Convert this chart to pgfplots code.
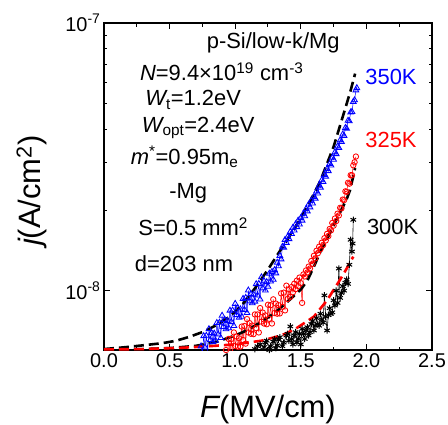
\documentclass[border=0pt]{standalone}
\usepackage{fontspec}
\setmainfont{Liberation Sans}
\usepackage{pgfplots}
\pgfplotsset{compat=1.18}
\begin{document}
\begin{tikzpicture}
\begin{axis}[
  scale only axis, width=328bp, height=327bp,
  xmin=0, xmax=2.5, ymode=log, ymin=6e-9, ymax=1e-7,
  xtick={0,0.5,1,1.5,2,2.5}, xticklabels={0.0,0.5,1.0,1.5,2.0,2.5},
  minor x tick num=1,
  ytick={1e-8,1e-7}, yticklabels={10\textsuperscript{-8},10\textsuperscript{-7}},
  tick align=inside, tick pos=both,
  major tick length=6bp, minor tick length=3.5bp,
  axis line style={line width=1.2bp},
  every tick/.style={line width=1bp, black},
  ticklabel style={font=\fontsize{20}{24}\selectfont},
  xlabel={{\itshape F}(MV/cm)},
  ylabel={{\itshape j}(A/cm\textsuperscript{2})},
  xlabel style={font=\fontsize{31}{36}\selectfont, at={(axis description cs:0.5,-0.183)}, anchor=center},
  ylabel style={font=\fontsize{31}{36}\selectfont, at={(axis description cs:-0.22,0.487)}, anchor=center},
]
% 350K data
\addplot[blue, line width=0.5bp, mark=triangle, mark size=3.3bp, mark options={solid, line width=0.85bp}] coordinates {
(0.74,6.20e-9)(0.75,5.83e-9)(0.76,6.77e-9)(0.77,6.14e-9)(0.78,6.79e-9)(0.79,5.94e-9)(0.80,7.19e-9)
(0.81,6.55e-9)(0.82,6.96e-9)(0.83,6.43e-9)(0.84,6.92e-9)(0.85,6.51e-9)(0.86,7.58e-9)(0.87,6.87e-9)
(0.88,7.60e-9)(0.89,6.66e-9)(0.90,8.07e-9)(0.91,7.33e-9)(0.92,7.79e-9)(0.93,7.18e-9)(0.94,7.72e-9)
(0.95,7.25e-9)(0.96,8.43e-9)(0.97,7.64e-9)(0.98,8.44e-9)(0.99,7.39e-9)(1.00,8.94e-9)(1.01,8.11e-9)
(1.02,8.61e-9)(1.03,7.93e-9)(1.04,8.52e-9)(1.05,8.00e-9)(1.06,9.33e-9)(1.07,8.49e-9)(1.08,9.41e-9)
(1.09,8.26e-9)(1.10,10.03e-9)(1.11,9.13e-9)(1.12,9.72e-9)(1.13,8.99e-9)(1.14,9.68e-9)(1.15,9.11e-9)
(1.16,10.59e-9)(1.17,9.60e-9)(1.18,10.61e-9)(1.19,9.28e-9)(1.20,11.23e-9)(1.21,10.21e-9)(1.22,10.86e-9)
(1.23,10.02e-9)(1.24,10.78e-9)(1.25,10.36e-9)(1.26,11.59e-9)(1.27,10.84e-9)(1.28,11.77e-9)(1.29,11.00e-9)
(1.30,11.95e-9)(1.31,11.62e-9)(1.32,12.73e-9)(1.33,12.36e-9)(1.34,13.51e-9)(1.35,13.1e-9)(1.36,14.6e-9)
(1.37,14.5e-9)(1.38,15.5e-9)(1.39,15.1e-9)(1.40,15.9e-9)(1.41,15.6e-9)(1.42,16.6e-9)(1.43,16.3e-9)
(1.44,17.2e-9)(1.45,16.8e-9)(1.46,17.7e-9)(1.47,17.3e-9)(1.48,18.3e-9)(1.49,17.7e-9)(1.50,18.7e-9)
(1.51,18.3e-9)(1.52,19.4e-9)(1.53,19.0e-9)(1.54,20.2e-9)(1.55,19.8e-9)(1.56,21.0e-9)(1.57,20.5e-9)
(1.58,21.7e-9)(1.59,21.2e-9)(1.60,22.4e-9)(1.61,22.1e-9)(1.62,23.5e-9)(1.63,23.1e-9)(1.64,24.7e-9)
(1.65,24.3e-9)(1.66,25.9e-9)(1.67,25.5e-9)(1.68,27.1e-9)(1.69,26.7e-9)(1.70,28.5e-9)(1.71,28.0e-9)
(1.72,29.8e-9)(1.73,29.4e-9)(1.74,31.4e-9)(1.75,30.9e-9)(1.76,32.9e-9)(1.77,32.4e-9)(1.78,34.6e-9)
(1.79,34.2e-9)(1.80,36.5e-9)(1.81,36.0e-9)(1.82,38.4e-9)(1.83,37.9e-9)(1.84,40.6e-9)(1.85,40.3e-9)
(1.86,43.2e-9)(1.87,43.0e-9)(1.88,46.4e-9)(1.89,46.6e-9)(1.90,50.8e-9)(1.91,51.5e-9)(1.92,56.1e-9)
(1.927,57.2e-9)
};
% 325K data
\addplot[red, line width=0.5bp, mark=o, mark size=2.7bp, mark options={solid, line width=0.85bp}] coordinates {
(0.93,6.00e-9)(0.94,5.57e-9)(0.95,6.60e-9)(0.96,5.86e-9)(0.97,6.60e-9)(0.98,5.66e-9)(0.99,6.98e-9)
(1.00,6.21e-9)(1.01,6.74e-9)(1.02,6.17e-9)(1.03,6.64e-9)(1.04,6.18e-9)(1.05,7.34e-9)(1.06,6.54e-9)
(1.07,7.38e-9)(1.08,6.34e-9)(1.09,7.83e-9)(1.10,6.98e-9)(1.11,7.56e-9)(1.12,6.90e-9)(1.13,7.41e-9)
(1.14,6.88e-9)(1.15,8.15e-9)(1.16,7.24e-9)(1.17,8.15e-9)(1.18,6.98e-9)(1.19,8.61e-9)(1.20,7.66e-9)
(1.21,8.28e-9)(1.22,7.54e-9)(1.23,8.08e-9)(1.24,7.49e-9)(1.25,8.86e-9)(1.26,7.85e-9)(1.27,8.82e-9)
(1.28,7.54e-9)(1.29,9.28e-9)(1.30,8.25e-9)(1.31,8.95e-9)(1.32,8.20e-9)(1.33,8.83e-9)(1.34,8.22e-9)
(1.35,9.77e-9)(1.36,8.70e-9)(1.37,9.83e-9)(1.38,8.44e-9)(1.39,10.44e-9)(1.40,9.31e-9)(1.41,10.13e-9)
(1.42,9.48e-9)(1.43,10.32e-9)(1.44,9.86e-9)(1.45,10.61e-9)(1.46,10.13e-9)(1.47,10.90e-9)(1.48,10.40e-9)
(1.49,11.19e-9)(1.50,10.67e-9)(1.51,9.0e-9)(1.52,11.5e-9)(1.53,11.3e-9)(1.54,11.9e-9)(1.55,11.7e-9)
(1.56,12.3e-9)(1.57,12.1e-9)(1.58,12.9e-9)(1.59,12.6e-9)(1.60,13.5e-9)(1.61,13.2e-9)(1.62,14.1e-9)
(1.63,13.8e-9)(1.64,14.6e-9)(1.65,14.3e-9)(1.66,15.1e-9)(1.67,14.8e-9)(1.68,15.7e-9)(1.69,15.4e-9)
(1.70,16.3e-9)(1.71,16.0e-9)(1.72,17.0e-9)(1.73,16.8e-9)(1.74,17.9e-9)(1.75,17.5e-9)(1.76,18.6e-9)
(1.77,18.2e-9)(1.78,19.4e-9)(1.79,19.1e-9)(1.80,20.4e-9)(1.81,20.3e-9)(1.82,21.9e-9)(1.83,21.8e-9)
(1.84,23.5e-9)(1.85,23.4e-9)(1.86,25.3e-9)(1.87,25.1e-9)(1.88,27.0e-9)(1.89,27.0e-9)(1.90,29.4e-9)
(1.91,30.2e-9)(1.92,31.7e-9)
};
% 300K data
\addplot[black, line width=0.6bp, mark=asterisk, mark size=3.2bp, mark options={solid, line width=1bp}] coordinates {
(1.13,5.9e-9)(1.15,6.05e-9)(1.16,5.8e-9)(1.17,6.2e-9)(1.19,6.3e-9)(1.20,5.9e-9)(1.22,6.15e-9)
(1.23,6.4e-9)(1.24,6.5e-9)(1.26,6.0e-9)(1.27,6.2e-9)(1.29,6.45e-9)(1.30,6.6e-9)(1.31,6.1e-9)
(1.32,6.25e-9)(1.33,6.55e-9)(1.34,6.7e-9)(1.36,6.2e-9)(1.37,6.4e-9)(1.39,6.8e-9)(1.40,6.9e-9)
(1.41,6.5e-9)(1.42,7.35e-9)(1.43,6.6e-9)(1.44,6.3e-9)(1.45,6.8e-9)(1.46,7.0e-9)(1.47,6.4e-9)
(1.48,6.6e-9)(1.49,6.9e-9)(1.50,6.3e-9)(1.51,7.2e-9)(1.52,6.9e-9)(1.53,6.6e-9)(1.54,7.1e-9)
(1.55,7.3e-9)(1.56,6.8e-9)(1.57,7.0e-9)(1.58,7.5e-9)(1.59,7.7e-9)(1.60,7.1e-9)(1.61,7.4e-9)
(1.62,7.9e-9)(1.63,7.5e-9)(1.64,7.4e-9)(1.65,8.2e-9)(1.66,7.8e-9)(1.67,7.6e-9)(1.68,9.6e-9)
(1.69,8.0e-9)(1.70,7.1e-9)(1.71,8.1e-9)(1.72,8.6e-9)(1.73,8.2e-9)(1.74,8.3e-9)(1.75,9.2e-9)
(1.76,8.8e-9)(1.77,10.0e-9)(1.78,9.0e-9)(1.79,12.1e-9)(1.80,9.4e-9)(1.81,9.8e-9)(1.82,10.4e-9)
(1.83,10.0e-9)(1.84,10.7e-9)(1.85,11.0e-9)(1.86,10.6e-9)(1.87,12.5e-9)(1.88,15.5e-9)(1.89,14.0e-9)
(1.895,15.0e-9)(1.90,18.4e-9)
};
% fits
\addplot[black, line width=2.6bp, dash pattern=on 10bp off 5bp] coordinates {
(0.00,6.05e-9)(0.15,6.14e-9)(0.30,6.25e-9)(0.45,6.37e-9)(0.55,6.5e-9)(0.65,6.72e-9)(0.75,7.0e-9)
(0.85,7.4e-9)(0.95,7.95e-9)(1.05,8.8e-9)(1.15,10.2e-9)(1.25,12.0e-9)(1.35,14.3e-9)(1.45,17.0e-9)
(1.55,20.6e-9)(1.65,25.8e-9)(1.75,34.5e-9)(1.80,41.5e-9)(1.85,50.0e-9)(1.88,56.0e-9)(1.914,64.7e-9)
};
\addplot[black, line width=2.6bp, dash pattern=on 10bp off 5bp] coordinates {
(0.00,6.02e-9)(0.30,6.05e-9)(0.50,6.1e-9)(0.70,6.22e-9)(0.85,6.42e-9)(1.00,6.8e-9)(1.10,7.15e-9)
(1.20,7.65e-9)(1.30,8.25e-9)(1.40,9.1e-9)(1.50,10.1e-9)(1.55,10.9e-9)(1.60,12.3e-9)(1.65,14.0e-9)
(1.70,15.6e-9)(1.75,17.5e-9)(1.80,19.6e-9)(1.85,22.0e-9)(1.876,23.8e-9)(1.914,28.7e-9)
};
\addplot[red, line width=2.6bp, dash pattern=on 10bp off 5bp] coordinates {
(0.00,6.03e-9)(0.30,6.05e-9)(0.60,6.12e-9)(0.80,6.2e-9)(1.00,6.3e-9)(1.20,6.5e-9)(1.35,6.8e-9)
(1.45,7.15e-9)(1.55,7.7e-9)(1.60,8.0e-9)(1.70,9.2e-9)(1.80,11.0e-9)(1.85,12.1e-9)(1.90,13.4e-9)
};
\begin{scope}[every node/.style={font=\fontsize{22}{26}\selectfont, anchor=center, inner sep=0pt}]
\node at (rel axis cs:0.516,0.938) {p-Si/low-k/Mg};
\node at (rel axis cs:0.359,0.851) {{\itshape N}=9.4×10\textsuperscript{19} cm\textsuperscript{-3}};
\node at (rel axis cs:0.272,0.765) {{\itshape W}\textsubscript{t}=1.2eV};
\node at (rel axis cs:0.287,0.678) {{\itshape W}\textsubscript{opt}=2.4eV};
\node at (rel axis cs:0.246,0.591) {{\itshape m}\textsuperscript{*}=0.95m\textsubscript{e}};
\node at (rel axis cs:0.257,0.479) {-Mg};
\node at (rel axis cs:0.272,0.377) {S=0.5 mm\textsuperscript{2}};
\node at (rel axis cs:0.244,0.265) {d=203 nm};
\node[blue] at (rel axis cs:0.875,0.836) {350K};
\node[red] at (rel axis cs:0.875,0.642) {325K};
\node[black] at (rel axis cs:0.880,0.377) {300K};
\end{scope}
\end{axis}
\pgfresetboundingbox
\path[use as bounding box] ([shift={(-104bp,-75bp)}]current axis.south west) rectangle ([shift={(16bp,23bp)}]current axis.north east);
\end{tikzpicture}
\end{document}
